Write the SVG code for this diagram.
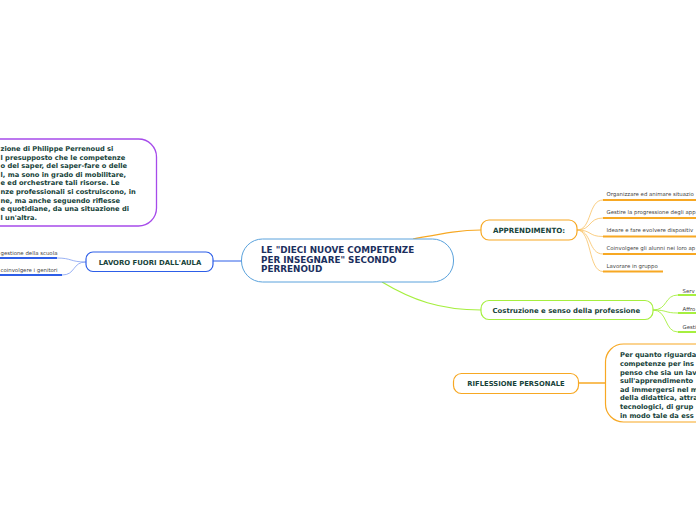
<svg xmlns="http://www.w3.org/2000/svg" width="696" height="520" viewBox="0 0 696 520">
<style>
.lbl{font-family:"DejaVu Sans",Verdana,sans-serif;font-weight:bold;fill:#17433a}
.ctr{font-family:"DejaVu Sans",Verdana,sans-serif;font-weight:bold;fill:#1b2f5e;font-size:8.8px}
.body{font-family:"DejaVu Sans",Verdana,sans-serif;font-weight:bold;fill:#17433a;font-size:6.7px}
.ch{font-family:"DejaVu Sans",Verdana,sans-serif;fill:#444;font-size:5.4px}
.or{stroke:#f7a823;fill:none}
.gr{stroke:#a6ef3f;fill:none}
.bl{stroke:#2d5ee8;fill:none}
</style>
<rect width="696" height="520" fill="#fff"/>
<g id="connectors">
<path class="or" stroke-width="1.2" d="M413,239 C440,234 458,230 481,230"/>
<path class="gr" stroke-width="1.2" d="M382,282 C412,300 440,310 481,310"/>
<path class="bl" stroke-width="1" d="M213,261 L242,261"/>
<path class="or" stroke-width="1.5" d="M578,383 L606,383"/>
<g class="or" stroke-width="0.8" opacity="0.7">
<path d="M577,230 C592,230 588,200 603,200"/>
<path d="M577,230 C592,230 588,218 603,218"/>
<path d="M577,230 C592,230 588,236.5 603,236.5"/>
<path d="M577,230 C592,230 588,254 603,254"/>
<path d="M577,230 C592,230 588,271.5 603,271.5"/>
</g>
<g class="or" stroke-width="2">
<path d="M603,200 H696"/><path d="M603,218 H696"/><path d="M603,236.5 H696"/><path d="M603,254 H696"/><path d="M603,271.5 H663"/>
</g>
<g class="gr" stroke-width="0.9">
<path d="M653,310 C668,310 664,295 678,295"/>
<path d="M653,310 C668,310 664,313 678,313"/>
<path d="M653,310 C668,310 664,332 678,332"/>
</g>
<g class="gr" stroke-width="2">
<path d="M678,295 H696"/><path d="M678,313 H696"/><path d="M678,332 H696"/>
</g>
<g class="bl" stroke-width="0.8" opacity="0.6">
<path d="M86,262 C70,262 72,258 57,258"/>
<path d="M86,262 C72,262 76,275 62,275"/>
</g>
<g class="bl" stroke-width="2">
<path d="M0,258 H57"/><path d="M0,275 H62"/>
</g>
</g>
<g id="center">
<rect x="241.5" y="239" width="212" height="43" rx="21" fill="#fff" stroke="#5aa2dc" stroke-width="1"/>
<text class="ctr" x="261" y="253">LE "DIECI NUOVE COMPETENZE</text>
<text class="ctr" x="261" y="262.5">PER INSEGNARE" SECONDO</text>
<text class="ctr" x="261" y="272">PERRENOUD</text>
</g>
<g id="apprendimento">
<rect x="481" y="220" width="96" height="20" rx="8" fill="#fff" stroke="#f7a823" stroke-width="1.2"/>
<text class="lbl" x="529" y="233.3" font-size="7.1" text-anchor="middle">APPRENDIMENTO:</text>
</g>
<g id="appr-children">
<text class="ch" x="606.5" y="196">Organizzare ed animare situazio</text>
<text class="ch" x="606.5" y="214">Gestire la progressione degli app</text>
<text class="ch" x="606.5" y="232">Ideare e fare evolvere dispositiv</text>
<text class="ch" x="606.5" y="250">Coinvolgere gli alunni nei loro ap</text>
<text class="ch" x="606.5" y="268">Lavorare in gruppo</text>
</g>
<g id="costruzione">
<rect x="481" y="300.5" width="172" height="19" rx="8" fill="#fff" stroke="#a6ef3f" stroke-width="1.2"/>
<text class="lbl" x="492.5" y="312.5" font-size="6.9">Costruzione e senso della professione</text>
</g>
<g id="costr-children">
<text class="ch" x="682.5" y="292.5">Serv</text>
<text class="ch" x="682.5" y="310.5">Affro</text>
<text class="ch" x="682.5" y="328.5">Gesti</text>
</g>
<g id="riflessione">
<rect x="453.5" y="373.5" width="125" height="20" rx="8" fill="#fff" stroke="#f7a823" stroke-width="1.2"/>
<text class="lbl" x="516" y="386" font-size="6.8" text-anchor="middle">RIFLESSIONE PERSONALE</text>
</g>
<g id="riflessione-testo">
<rect x="605.5" y="344" width="120" height="78" rx="18" fill="#fff" stroke="#f7a823" stroke-width="1.2"/>
<text class="body" x="620" y="357">Per quanto riguarda</text>
<text class="body" x="620" y="366">competenze per ins</text>
<text class="body" x="620" y="374.5">penso che sia un lav</text>
<text class="body" x="620" y="383">sull'apprendimento</text>
<text class="body" x="620" y="391.7">ad immergersi nel m</text>
<text class="body" x="620" y="400.3">della didattica, attra</text>
<text class="body" x="620" y="409">tecnologici, di grup</text>
<text class="body" x="620" y="417.5">in modo tale da ess</text>
</g>
<g id="perrenoud-testo">
<rect x="-40" y="139" width="196.5" height="87" rx="18" fill="#fff" stroke="#a64bea" stroke-width="1.3"/>
<text class="body" x="0.5" y="151">zione di Philippe Perrenoud si</text>
<text class="body" x="0.5" y="159.6">l presupposto che le competenze</text>
<text class="body" x="0.5" y="168.2">o del saper, del saper-fare o delle</text>
<text class="body" x="0.5" y="176.8">l, ma sono in grado di mobilitare,</text>
<text class="body" x="0.5" y="185.4">e ed orchestrare tali risorse. Le</text>
<text class="body" x="0.5" y="194">nze professionali si costruiscono, in</text>
<text class="body" x="0.5" y="202.6">ne, ma anche seguendo riflesse</text>
<text class="body" x="0.5" y="211.2">e quotidiane, da una situazione di</text>
<text class="body" x="0.5" y="219.8">l un'altra.</text>
</g>
<g id="lavoro">
<rect x="86" y="252" width="127" height="19.5" rx="7" fill="#fff" stroke="#2d5ee8" stroke-width="1.2"/>
<text class="lbl" x="150" y="264.5" font-size="6.9" text-anchor="middle">LAVORO FUORI DALL'AULA</text>
</g>
<g id="lavoro-children">
<text class="ch" x="0.5" y="254.5" font-size="5.1">gestione della scuola</text>
<text class="ch" x="0.5" y="271.5" font-size="5.1">coinvolgere i genitori</text>
</g>
</svg>
